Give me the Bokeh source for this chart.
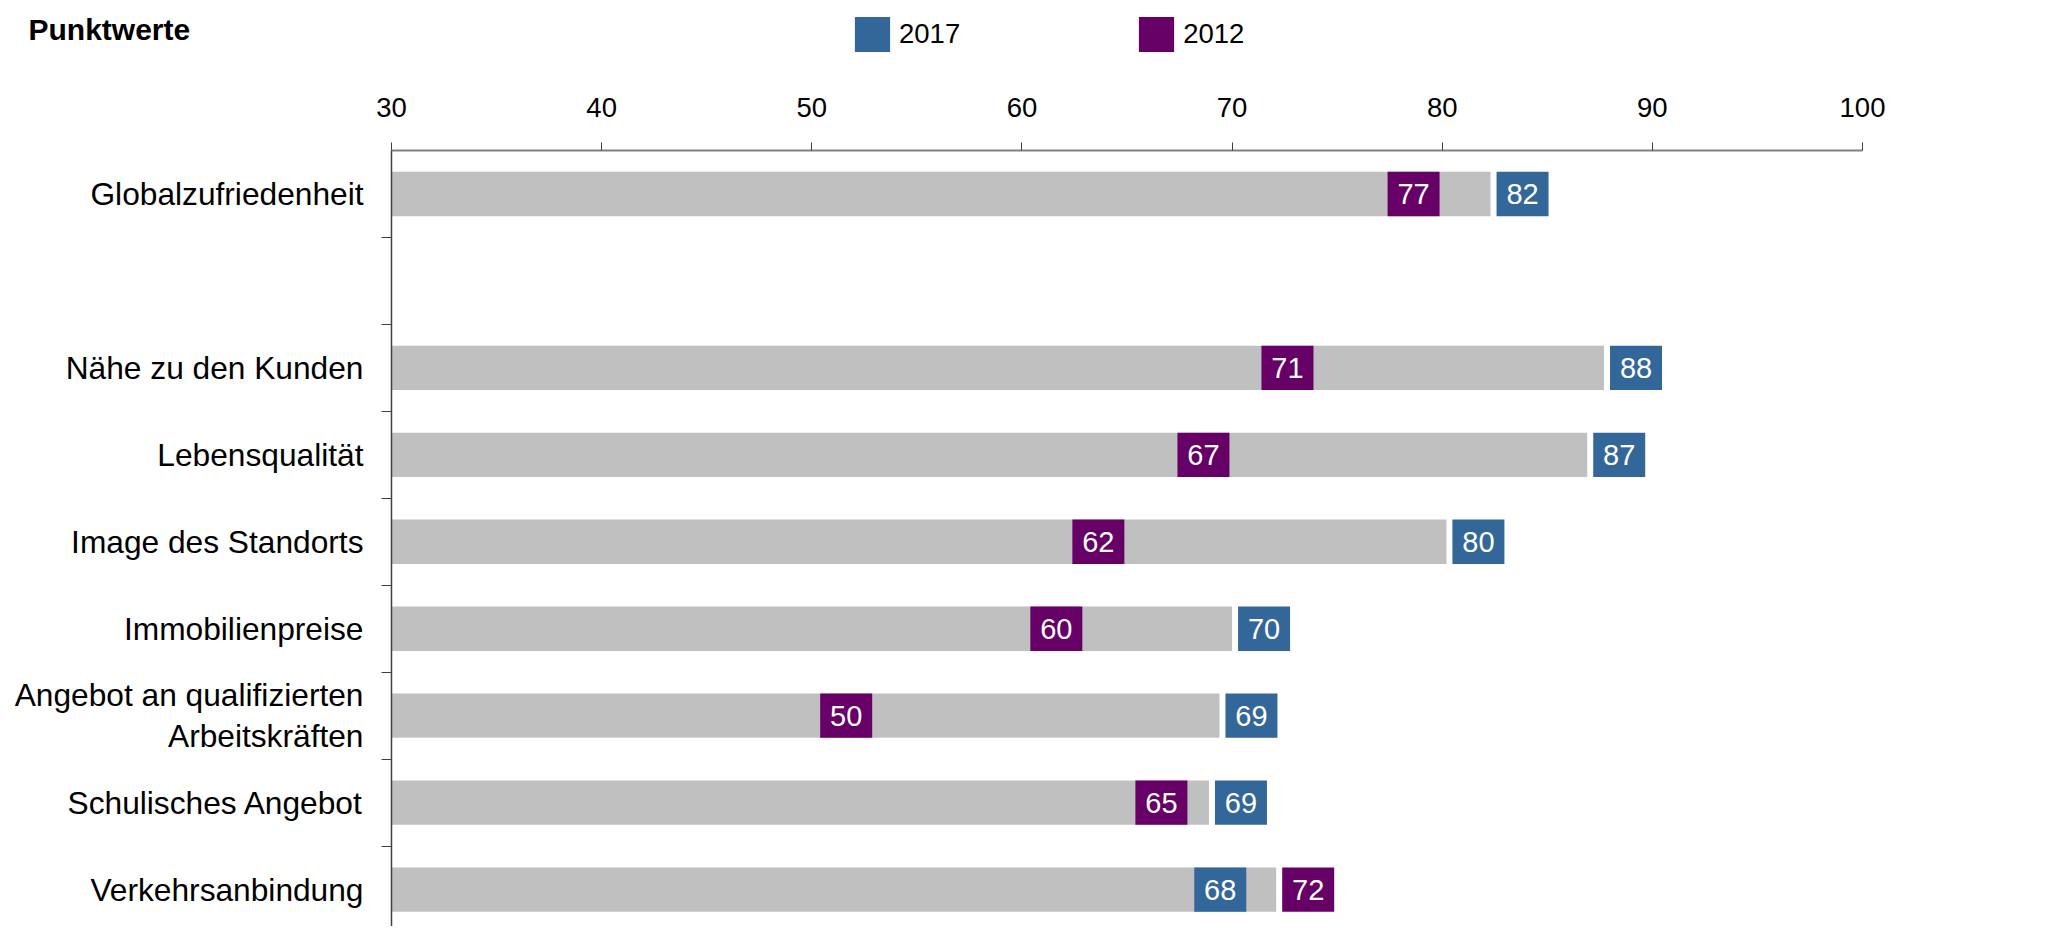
from bokeh.plotting import figure
from bokeh.layouts import column
from bokeh.models import Range1d, FixedTicker, Label, Legend, LegendItem, ColumnDataSource
from bokeh.core.properties import value
from bokeh.embed import file_html
from bokeh.resources import INLINE

# ---------------- data ----------------
categories = [
    "Globalzufriedenheit",
    "Nähe zu den Kunden",
    "Lebensqualität",
    "Image des Standorts",
    "Immobilienpreise",
    "Angebot an qualifizierten\nArbeitskräften",
    "Schulisches Angebot",
    "Verkehrsanbindung",
]
values_2017 = [82.3, 87.7, 86.9, 80.2, 70.0, 69.4, 68.9, 68.2]
values_2012 = [77.4, 71.4, 67.4, 62.4, 60.4, 50.4, 65.4, 72.1]
x_ticks = [30, 40, 50, 60, 70, 80, 90, 100]
series_names = ["2017", "2012"]
title_text = "Punktwerte"

# ---------------- styling / layout ----------------
FONT = "Liberation Sans"
C2017 = "#336699"
C2012 = "#660066"
GRAY = "#c0c0c0"
W = 2032
HT = 70            # header figure (title + legend)
H = 856            # main figure
BL, BR, BT = 391, 170, 80
X0, X1 = 30, 100
FRAME_W = W - BL - BR
PPU = FRAME_W / (X1 - X0)
BOX_W = 52
GAP = 6
BAR_H = 0.51
SLOT = 86.95
Y_BOTTOM = -0.5 + (H - BT) / SLOT
KEY = 44           # legend glyph area (drawn square is 80 % of it)

rows = [0] + list(range(2, 2 + len(categories) - 1))
maxes = [max(a, b) for a, b in zip(values_2017, values_2012)]


def centers(vals):
    out = []
    for v, m in zip(vals, maxes):
        if v >= m:
            out.append(m + (GAP + BOX_W / 2) / PPU)
        else:
            out.append(v + (BOX_W / 2) / PPU)
    return out


src17 = ColumnDataSource(dict(x=centers(values_2017), y=rows,
                              t=[f"{round(v)}" for v in values_2017]))
src12 = ColumnDataSource(dict(x=centers(values_2012), y=rows,
                              t=[f"{round(v)}" for v in values_2012]))

# ---------------- header figure (pixel space) ----------------
ph = figure(width=W, height=HT, output_backend="svg", toolbar_location=None,
            x_range=Range1d(0, W), y_range=Range1d(HT, 0),
            min_border=0, x_axis_type=None, y_axis_type=None)
ph.frame_align = False
ph.outline_line_color = None
ph.xgrid.visible = False
ph.ygrid.visible = False
# legend key renderers (kept outside the visible range)
lr17 = ph.rect(x=[-100], y=[-100], width=1, height=1, fill_color=C2017, line_color=None)
lr12 = ph.rect(x=[-100], y=[-100], width=1, height=1, fill_color=C2012, line_color=None)
legend = Legend(items=[LegendItem(label=series_names[0], renderers=[lr17]),
                       LegendItem(label=series_names[1], renderers=[lr12])],
                location=(850, HT - 56), orientation="horizontal",
                glyph_width=KEY, glyph_height=KEY, label_standoff=5, spacing=174,
                padding=0, margin=0, border_line_color=None,
                background_fill_alpha=0, label_text_font=FONT,
                label_text_font_size="27.5px", label_text_color="black")
ph.add_layout(legend)
ph.add_layout(Label(x=28, y=29.3, text=title_text, text_font=FONT,
                    text_font_style="bold", text_font_size="30px",
                    text_baseline="alphabetic", text_color="black"))

# ---------------- main figure ----------------
p = figure(width=W, height=H, output_backend="svg", toolbar_location=None,
           x_range=Range1d(X0, X1), y_range=Range1d(Y_BOTTOM, -0.5),
           x_axis_location="above", min_border_left=BL, min_border_right=BR,
           min_border_top=BT, min_border_bottom=0)
p.frame_align = False
p.outline_line_color = None
p.xgrid.visible = False
p.ygrid.visible = False

p.hbar(y=rows, left=X0, right=maxes, height=BAR_H, fill_color=GRAY, line_color=None)

p.rect(x="x", y="y", width=BOX_W, width_units="screen", height=BAR_H,
       fill_color=C2017, line_color=None, source=src17)
p.rect(x="x", y="y", width=BOX_W, width_units="screen", height=BAR_H,
       fill_color=C2012, line_color=None, source=src12)
for s in (src17, src12):
    p.text(x="x", y="y", text="t", source=s, text_align="center",
           text_baseline="middle", text_color="white",
           text_font=value(FONT), text_font_size="29px")

# x axis (top)
xa = p.xaxis[0]
xa.ticker = FixedTicker(ticks=x_ticks)
xa.major_tick_out = 8
xa.major_tick_in = 0
xa.minor_tick_out = 0
xa.minor_tick_in = 0
xa.axis_line_color = "#808080"
xa.axis_line_width = 2
xa.major_tick_line_color = "#404040"
xa.major_label_standoff = 26
xa.major_label_text_font = FONT
xa.major_label_text_font_size = "27.5px"
xa.major_label_text_color = "black"

# y axis (left)
ya = p.yaxis[0]
ya.ticker = FixedTicker(ticks=list(range(9)), minor_ticks=[i + 0.5 for i in range(8)])
overrides = {1: ""}
for r, c in zip(rows, categories):
    overrides[r] = c
ya.major_label_overrides = overrides
ya.major_tick_out = 0
ya.major_tick_in = 0
ya.minor_tick_out = 10
ya.minor_tick_in = 0
ya.minor_tick_line_color = "#404040"
ya.axis_line_color = "#404040"
ya.axis_line_width = 1.5
ya.major_label_standoff = 18
ya.major_label_text_font = FONT
ya.major_label_text_font_size = "31.7px"
ya.major_label_text_color = "black"
ya.major_label_text_line_height = 1.15

layout = column(ph, p, spacing=0)
open("out.html", "w").write(file_html(layout, INLINE))
